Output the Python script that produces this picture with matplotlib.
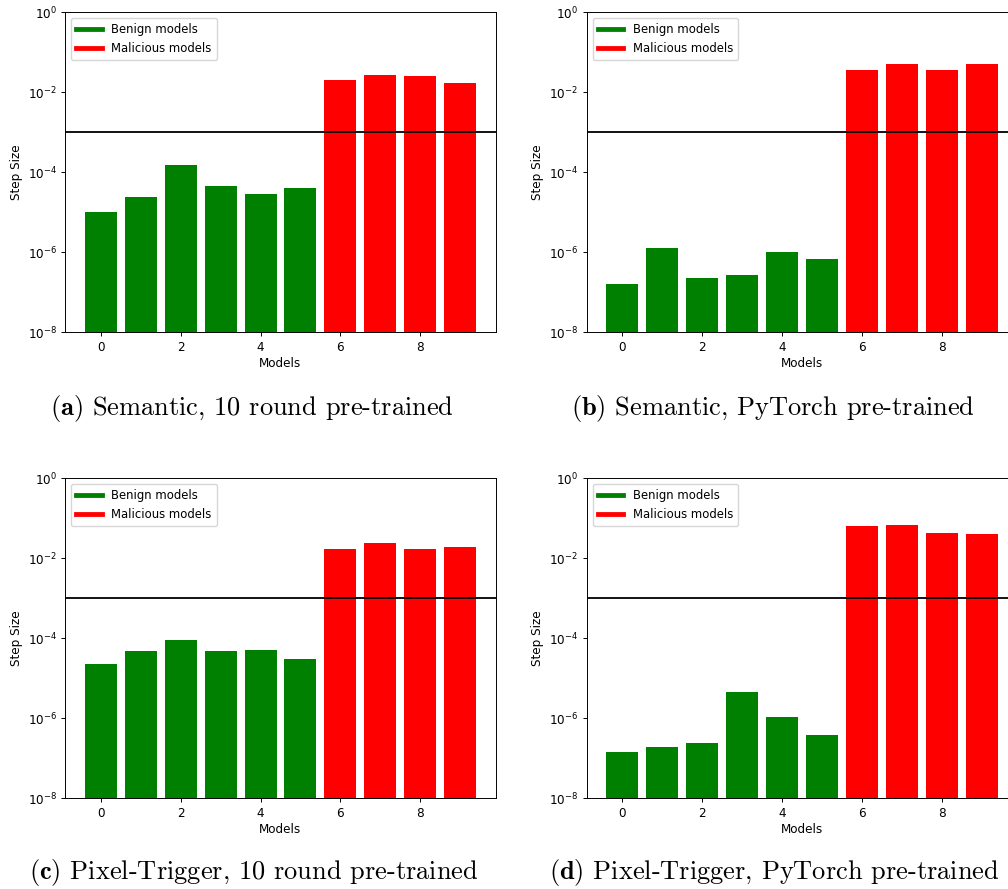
import matplotlib
matplotlib.use('Agg')
import matplotlib.pyplot as plt
from matplotlib.lines import Line2D
from matplotlib.ticker import FixedLocator, NullLocator, LogFormatterSciNotation

models = list(range(10))
n_benign = 6
threshold = 1e-3

sem_10round = [1.0e-5, 2.4e-5, 1.55e-4, 4.5e-5, 2.9e-5, 4.0e-5, 0.020, 0.0275, 0.025, 0.0168]
sem_pytorch = [1.65e-7, 1.26e-6, 2.24e-7, 2.7e-7, 1.04e-6, 6.7e-7, 0.037, 0.050, 0.0355, 0.050]
pix_10round = [2.33e-5, 4.9e-5, 8.9e-5, 4.9e-5, 5.1e-5, 3.0e-5, 0.0168, 0.0242, 0.0168, 0.0195]
pix_pytorch = [1.47e-7, 1.92e-7, 2.47e-7, 4.5e-6, 1.06e-6, 3.9e-7, 0.064, 0.068, 0.042, 0.040]

captions = [
    (r'$\mathbf{(a)}$ Semantic, 10 round pre-trained', 252, 408),
    (r'$\mathbf{(b)}$ Semantic, PyTorch pre-trained', 773, 408),
    (r'$\mathbf{(c)}$ Pixel-Trigger, 10 round pre-trained', 254, 873),
    (r'$\mathbf{(d)}$ Pixel-Trigger, PyTorch pre-trained', 774, 873),
]

W, H = 1008, 889
s = 0.867  # scale of each panel compared with a default figure
fs = 10 * s

fig = plt.figure(figsize=(W / 100, H / 100), dpi=100)

# axes boxes in pixels: left, top
boxes = [(65.3, 12.3), (586.7, 12.3), (65.3, 478.3), (586.7, 478.3)]
aw, ah = 430.4, 320.0
datasets = [sem_10round, sem_pytorch, pix_10round, pix_pytorch]

for (left, top), vals in zip(boxes, datasets):
    ax = fig.add_axes([left / W, 1 - (top + ah) / H, aw / W, ah / H])
    colors = ['green'] * n_benign + ['red'] * (len(models) - n_benign)
    ax.bar(models, vals, color=colors)
    ax.axhline(threshold, color='black', lw=1.5 * s)
    ax.set_yscale('log')
    ax.set_ylim(1e-8, 1)
    ax.yaxis.set_major_locator(FixedLocator([1e-8, 1e-6, 1e-4, 1e-2, 1]))
    ax.yaxis.set_major_formatter(LogFormatterSciNotation())
    ax.yaxis.set_minor_locator(NullLocator())
    ax.set_xticks([0, 2, 4, 6, 8])
    ax.set_xlabel('Models', fontsize=fs, labelpad=2.5 * s)
    ax.set_ylabel('Step Size', fontsize=fs, labelpad=4 * s)
    ax.tick_params(labelsize=fs, length=3.5 * s, width=0.8 * s, pad=3.5 * s)
    for sp in ax.spines.values():
        sp.set_linewidth(0.8 * s)
    handles = [Line2D([0], [0], color='green', lw=4 * s),
               Line2D([0], [0], color='red', lw=4 * s)]
    ax.legend(handles, ['Benign models', 'Malicious models'], loc='upper left',
              fontsize=fs * 0.97, handlelength=2.2, labelspacing=0.5,
              borderpad=0.45)

for text, x, y in captions:
    fig.text(x / W, 1 - y / H, text, ha='center', va='center', fontsize=19,
             family='cmr10', math_fontfamily='cm')

fig.savefig('out.png', dpi=100)
